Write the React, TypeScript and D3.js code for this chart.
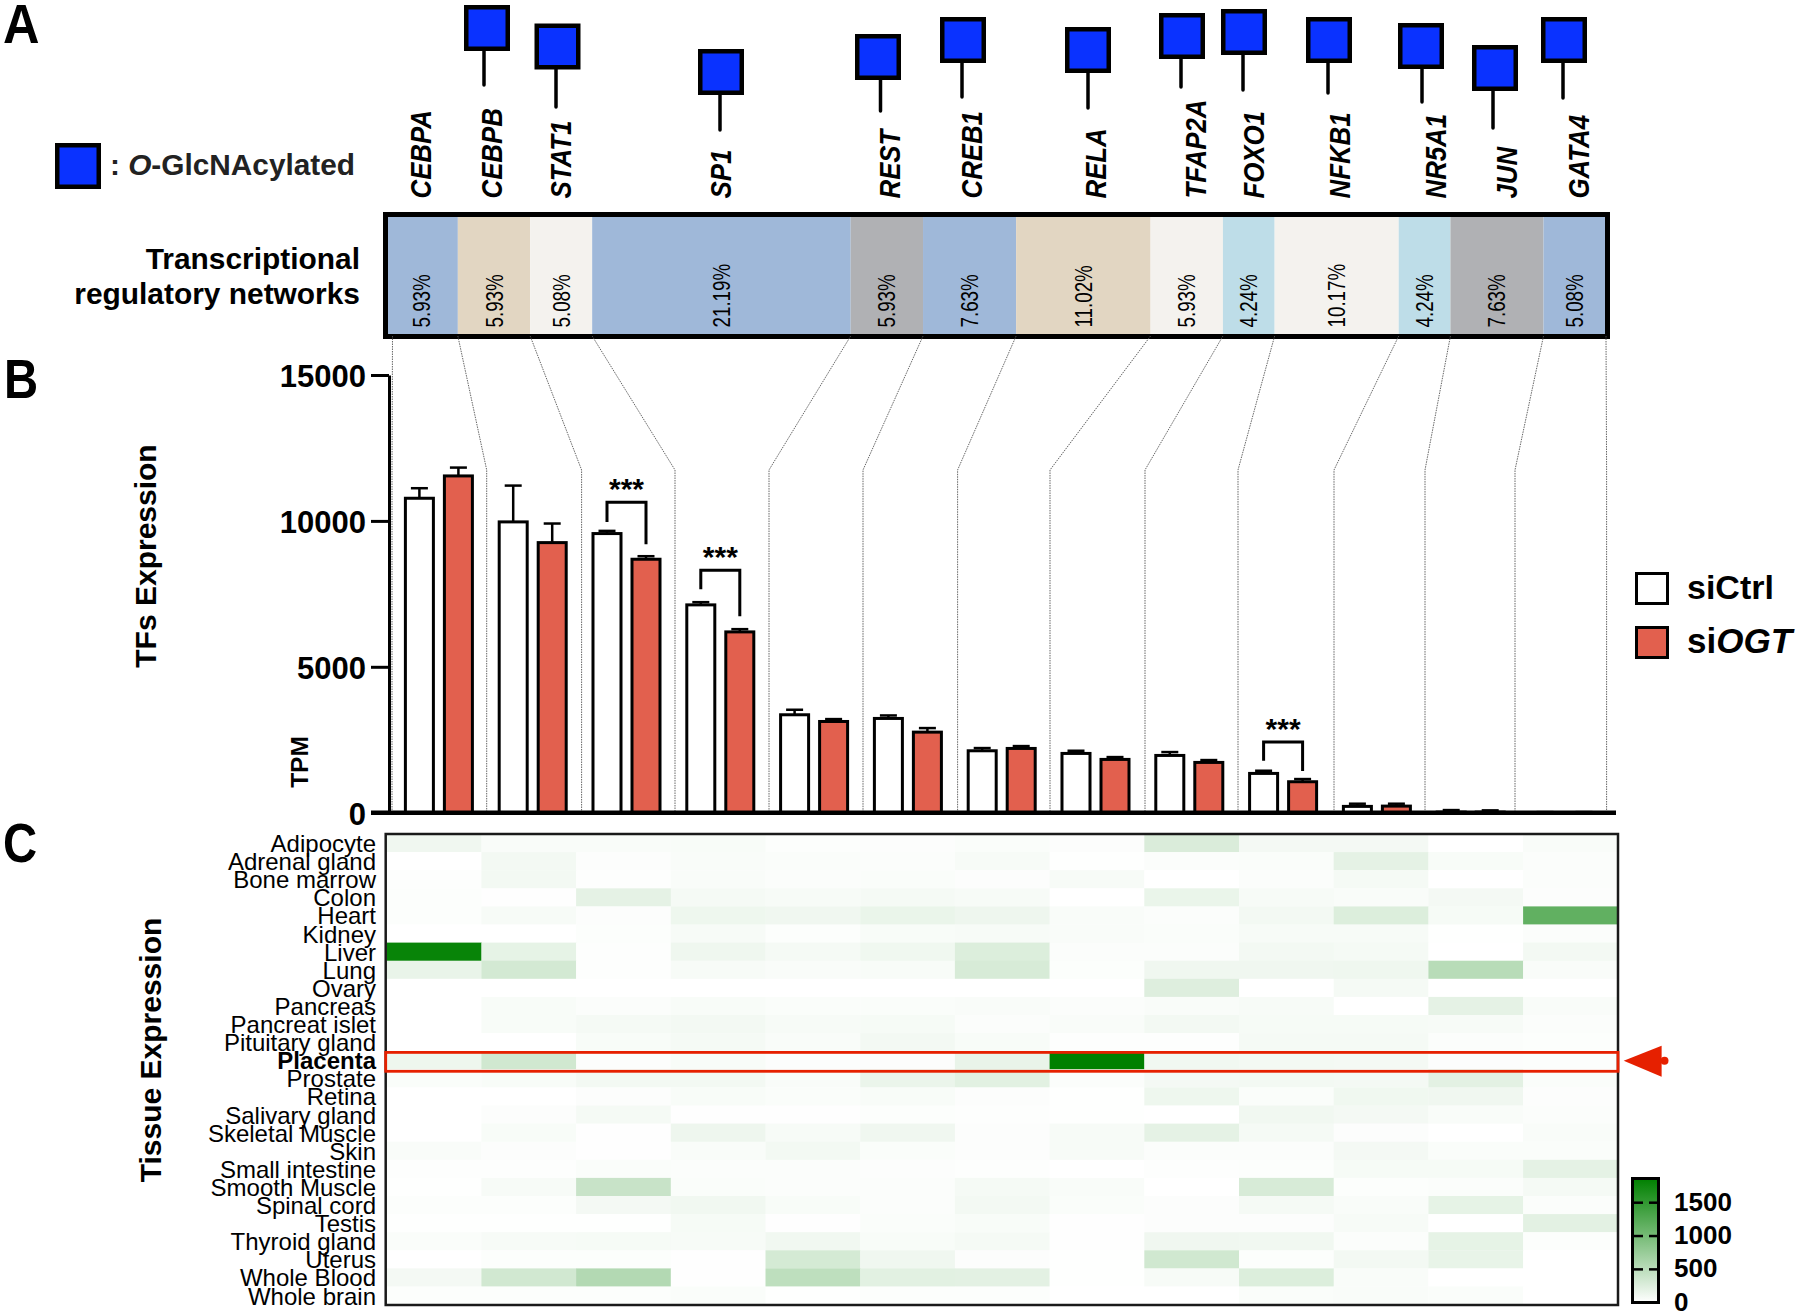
import React, { FC, useEffect, useRef } from "react";
import { axisLeft, format, scaleBand, scaleLinear, select, cumsum } from "d3";

const genes = ["CEBPA", "CEBPB", "STAT1", "SP1", "REST", "CREB1", "RELA", "TFAP2A", "FOXO1", "NFKB1", "NR5A1", "JUN", "GATA4"];
const networkShare = [5.93, 5.93, 5.08, 21.19, 5.93, 7.63, 11.02, 5.93, 4.24, 10.17, 4.24, 7.63, 5.08];

const groups = ["siCtrl", "siOGT"];
const ctrlMean = [10800, 9990, 9590, 7146, 3380, 3254, 2146, 2055, 1986, 1370, 240, 45, 10];
const ctrlTop = [11120, 11210, 9658, 7215, 3528, 3333, 2215, 2123, 2078, 1438, 308, 90, 20];
const ogtMean = [11565, 9280, 8710, 6220, 3150, 2785, 2226, 1850, 1747, 1085, 250, 45, 10];
const ogtTop = [11827, 9910, 8790, 6290, 3208, 2900, 2283, 1906, 1804, 1153, 308, 80, 20];
const tpmTicks = [0, 5000, 10000, 15000];

// [gene, bracket top, left foot, right foot] in TPM
const brackets: [string, number, number, number][] = [
  ["STAT1", 10640, 9966, 9202],
  ["SP1", 8312, 7661, 6736],
  ["NFKB1", 2421, 1781, 1428],
];

const tissues = [
  "Adipocyte", "Adrenal gland", "Bone marrow", "Colon", "Heart", "Kidney", "Liver", "Lung", "Ovary",
  "Pancreas", "Pancreat islet", "Pituitary gland", "Placenta", "Prostate", "Retina", "Salivary gland",
  "Skeletal Muscle", "Skin", "Small intestine", "Smooth Muscle", "Spinal cord", "Testis", "Thyroid gland",
  "Uterus", "Whole Blood", "Whole brain",
];
const tissueValues = [
  [110, 40, 40, 50, 20, 25, 35, 25, 270, 80, 80, 0, 45],
  [0, 90, 25, 45, 35, 30, 60, 5, 30, 35, 190, 50, 30],
  [15, 90, 15, 40, 30, 35, 25, 55, 3, 30, 75, 0, 30],
  [20, 8, 190, 70, 55, 70, 60, 0, 150, 60, 40, 80, 25],
  [20, 60, 25, 120, 110, 150, 125, 40, 30, 90, 250, 65, 1140],
  [0, 0, 20, 60, 20, 50, 55, 40, 35, 55, 60, 5, 30],
  [1780, 180, 15, 115, 75, 105, 250, 30, 30, 90, 70, 0, 85],
  [160, 320, 15, 60, 40, 50, 290, 20, 110, 110, 115, 510, 40],
  [0, 3, 0, 0, 0, 0, 0, 0, 240, 0, 70, 3, 0],
  [2, 50, 30, 50, 35, 35, 45, 30, 40, 60, 0, 190, 40],
  [2, 50, 75, 85, 60, 65, 30, 40, 85, 65, 65, 60, 30],
  [0, 0, 50, 70, 45, 85, 50, 15, 15, 70, 75, 30, 20],
  [120, 340, 25, 50, 25, 25, 160, 1840, 100, 85, 80, 25, 20],
  [35, 50, 90, 85, 45, 145, 210, 30, 80, 85, 80, 200, 35],
  [3, 3, 25, 50, 35, 50, 25, 5, 120, 35, 105, 110, 25],
  [2, 25, 70, 10, 10, 20, 15, 5, 0, 100, 80, 40, 30],
  [2, 50, 10, 125, 60, 110, 25, 60, 190, 70, 25, 0, 45],
  [40, 25, 10, 40, 90, 35, 25, 60, 30, 30, 80, 35, 35],
  [15, 15, 35, 30, 30, 25, 15, 0, 15, 20, 65, 65, 185],
  [5, 55, 400, 35, 30, 30, 70, 40, 3, 290, 20, 30, 75],
  [20, 20, 80, 100, 50, 30, 85, 35, 25, 70, 45, 180, 30],
  [5, 5, 5, 65, 10, 35, 50, 10, 25, 25, 60, 3, 200],
  [35, 60, 65, 60, 100, 50, 70, 8, 110, 100, 30, 180, 20],
  [3, 20, 20, 10, 310, 110, 25, 5, 340, 20, 85, 165, 0],
  [80, 330, 550, 10, 470, 210, 200, 5, 60, 250, 40, 0, 0],
  [20, 20, 20, 35, 5, 20, 20, 0, 0, 35, 40, 35, 3],
];
const heatMax = 1840;
const heatTicks = [0, 500, 1000, 1500];

// hand placed annotation layout: gene -> [square left, square top, stem x, stem bottom]
const squareLayout: Record<string, number[]> = {
  CEBPB: [464, 5, 484, 85],
  STAT1: [534.5, 23.5, 556, 107],
  SP1: [698, 49, 720, 130],
  REST: [855, 34, 880.5, 111],
  CREB1: [940, 17, 962, 97],
  RELA: [1065, 27, 1088, 108],
  TFAP2A: [1159, 13, 1181, 87],
  FOXO1: [1221, 9, 1243, 90],
  NFKB1: [1306, 17, 1328, 93],
  NR5A1: [1398, 23, 1422, 102],
  JUN: [1472, 45, 1493, 128],
  GATA4: [1541, 17, 1563, 98],
};
const geneLabelX = [420, 491.5, 560, 720.5, 889, 971, 1095, 1195, 1253, 1339, 1435, 1506, 1578];
const connectorElbowX = [392, 486.7, 581.6, 675, 769, 863, 957.6, 1050, 1145, 1238, 1334, 1425, 1515, 1606.6];
const segmentColors = ["#9fb8d9", "#e2d6c2", "#f4f2ee", "#9fb8d9", "#b0b1b4", "#9fb8d9", "#e2d6c2", "#f4f2ee", "#bedde8", "#f4f2ee", "#bedde8", "#b0b1b4", "#9fb8d9"];

const FONT = "'Liberation Sans', Arial, sans-serif";
const RED = "#e2604e";
const ALERT = "#e62000";
const GLYCO = "#0a32ff";

const shareX = scaleLinear().domain([0, 100]).range([385.5, 1605.5]);
const shareEdges = [0, ...cumsum(networkShare)];

const geneX = scaleBand<string>().domain(genes).range([392, 1611.4]);
const groupX = scaleBand<string>().domain(groups).range([0, geneX.bandwidth()]).paddingInner(0.205).paddingOuter(0.305);
const tpmY = scaleLinear().domain([0, 15000]).range([812.7, 375]);

const heatX = scaleBand<string>().domain(genes).range([386.7, 1617.8]);
const heatY = scaleBand<string>().domain(tissues).range([834, 1304.6]);
const heatColor = scaleLinear<string>().domain([0, heatMax]).range(["#ffffff", "#008000"]);
const legendY = scaleLinear().domain([0, 1500]).range([1302.7, 1202.7]);

const Rotated: FC<{ x: number; y: number; size: number; sx?: number; bold?: boolean; italic?: boolean; anchor?: string; children: React.ReactNode }> = ({
  x,
  y,
  size,
  sx = 1,
  bold,
  italic,
  anchor = "start",
  children,
}) => (
  <text
    transform={`translate(${x},${y}) rotate(-90) scale(${sx},1)`}
    fontSize={size}
    fontWeight={bold ? "bold" : "normal"}
    fontStyle={italic ? "italic" : "normal"}
    textAnchor={anchor}
  >
    {children}
  </text>
);

const Square: FC<{ x: number; y: number }> = ({ x, y }) => (
  <rect x={x + 2.25} y={y + 2.25} width={41.5} height={41.5} fill={GLYCO} stroke="#000" strokeWidth={4.5} />
);

const PanelA: FC = () => (
  <g>
    {genes.map((g, i) => (
      <Rotated key={g} x={geneLabelX[i] + 10.5} y={198.5} size={29} sx={0.89} bold italic>
        {g}
      </Rotated>
    ))}
    {genes
      .filter((g) => squareLayout[g])
      .map((g) => {
        const [left, top, stemX, stemBottom] = squareLayout[g];
        return (
          <g key={g}>
            <line x1={stemX} x2={stemX} y1={top + 46} y2={stemBottom} stroke="#000" strokeWidth={3.5} strokeLinecap="round" />
            <Square x={left} y={top} />
          </g>
        );
      })}
    <Square x={55} y={143} />
    <text x={110} y={175} fontSize={29} fontWeight="bold" fill="#222" textLength={245} lengthAdjust="spacingAndGlyphs">
      : <tspan fontStyle="italic">O</tspan>-GlcNAcylated
    </text>
    <text x={360} y={269} fontSize={29.9} fontWeight="bold" textAnchor="end">
      Transcriptional
    </text>
    <text x={360} y={304} fontSize={29.9} fontWeight="bold" textAnchor="end">
      regulatory networks
    </text>
    {networkShare.map((p, i) => {
      const x0 = shareX(shareEdges[i]);
      const x1 = shareX(shareEdges[i + 1]);
      return (
        <g key={genes[i]}>
          <rect x={x0} y={217} width={x1 - x0} height={117} fill={segmentColors[i]} />
          <Rotated x={(x0 + x1) / 2 + 8.5} y={327.5} size={23.5} sx={0.8}>
            {format(".2f")(p)}%
          </Rotated>
        </g>
      );
    })}
    <rect x={385.5} y={214.5} width={1222} height={122} fill="none" stroke="#000" strokeWidth={5} />
  </g>
);

const PanelB: FC = () => {
  const axisRef = useRef<SVGGElement>(null);

  useEffect(() => {
    const axis = axisLeft(tpmY).tickValues(tpmTicks).tickSize(18).tickSizeOuter(0).tickPadding(5).tickFormat(format("d") as any);
    const g = select(axisRef.current).call(axis as any);
    g.selectAll("text").attr("font-family", FONT).attr("font-size", 31).attr("font-weight", "bold").attr("fill", "#000").attr("dy", "0.37em");
    g.selectAll("line, path").attr("stroke", "#000").attr("stroke-width", 3);
  }, []);

  return (
    <g>
      {connectorElbowX.map((x, i) => {
        const start = i === 0 ? 392.5 : i === genes.length ? 1606 : shareX(shareEdges[i]);
        return (
          <polyline
            key={i}
            points={`${start},336 ${x},470 ${x},812`}
            fill="none"
            stroke="#555"
            strokeWidth={0.9}
            strokeDasharray="1.5 1"
          />
        );
      })}
      {genes.map((g, i) =>
        groups.map((group) => {
          const mean = group === "siCtrl" ? ctrlMean[i] : ogtMean[i];
          const top = group === "siCtrl" ? ctrlTop[i] : ogtTop[i];
          const x = (geneX(g) as number) + (groupX(group) as number);
          const w = groupX.bandwidth();
          const cx = x + w / 2;
          const yBar = tpmY(mean) + 0.7;
          return (
            <g key={group}>
              <line x1={cx} x2={cx} y1={tpmY(top)} y2={yBar} stroke="#000" strokeWidth={2.5} />
              <line x1={cx - 8.5} x2={cx + 8.5} y1={tpmY(top)} y2={tpmY(top)} stroke="#000" strokeWidth={2.5} />
              <rect
                x={x + 1.5}
                y={yBar}
                width={w - 3}
                height={Math.max(0, tpmY(0) - yBar)}
                fill={group === "siCtrl" ? "#fff" : RED}
                stroke="#000"
                strokeWidth={3}
              />
            </g>
          );
        })
      )}
      {brackets.map(([g, top, left, right]) => {
        const base = geneX(g) as number;
        const x0 = base + (groupX("siCtrl") as number) + groupX.bandwidth() / 2;
        const x1 = base + (groupX("siOGT") as number) + groupX.bandwidth() / 2;
        return (
          <g key={g}>
            <polyline
              points={`${x0},${tpmY(left)} ${x0},${tpmY(top)} ${x1},${tpmY(top)} ${x1},${tpmY(right)}`}
              fill="none"
              stroke="#000"
              strokeWidth={3}
            />
            <text x={(x0 + x1) / 2} y={tpmY(top) - 3} fontSize={30} fontWeight="bold" textAnchor="middle">
              ***
            </text>
          </g>
        );
      })}
      <g ref={axisRef} transform="translate(389,0)" />
      <line x1={371} x2={1616} y1={tpmY(0)} y2={tpmY(0)} stroke="#000" strokeWidth={4.5} />
      <Rotated x={156} y={556} size={30} bold anchor="middle">
        TFs Expression
      </Rotated>
      <Rotated x={307.5} y={762} size={24.5} bold anchor="middle">
        TPM
      </Rotated>
      <rect x={1636.5} y={573.5} width={31} height={30} fill="#fff" stroke="#000" strokeWidth={3} />
      <rect x={1636.5} y={627.5} width={31} height={30} fill={RED} stroke="#000" strokeWidth={3} />
      <text x={1687} y={599} fontSize={34} fontWeight="bold">
        siCtrl
      </text>
      <text x={1687} y={652.5} fontSize={35} fontWeight="bold">
        si<tspan fontStyle="italic">OGT</tspan>
      </text>
    </g>
  );
};

const PanelC: FC = () => {
  const placentaTop = heatY("Placenta") as number;
  return (
    <g>
      <defs>
        <linearGradient id="heatRamp" x1="0" y1="1" x2="0" y2="0">
          <stop offset="0" stopColor={heatColor(0)} />
          <stop offset="1" stopColor={heatColor(heatMax)} />
        </linearGradient>
      </defs>
      {tissues.map((t, r) => (
        <g key={t}>
          {genes.map((g, c) => (
            <rect
              key={g}
              x={heatX(g)}
              y={heatY(t)}
              width={heatX.bandwidth() + 0.3}
              height={heatY.bandwidth() + 0.3}
              fill={heatColor(tissueValues[r][c])}
            />
          ))}
          <text
            x={376}
            y={(heatY(t) as number) + heatY.bandwidth() / 2 + 9}
            fontSize={24}
            textAnchor="end"
            fontWeight={t === "Placenta" ? "bold" : "normal"}
          >
            {t}
          </text>
        </g>
      ))}
      <rect x={385.7} y={834} width={1232.3} height={471} fill="none" stroke="#1a1a1a" strokeWidth={2.5} />
      <rect x={385.7} y={placentaTop + 1.2} width={1232.3} height={heatY.bandwidth() + 0.8} fill="none" stroke={ALERT} strokeWidth={2.8} />
      <polygon points={`1623.7,1060.7 1661.6,1045.7 1661.6,1076.7`} fill={ALERT} />
      <circle cx={1664.5} cy={1060.7} r={4} fill={ALERT} />
      <Rotated x={160.5} y={1050} size={30} bold anchor="middle">
        Tissue Expression
      </Rotated>
      <rect x={1632.5} y={1178.5} width={26} height={124} fill="url(#heatRamp)" stroke="#000" strokeWidth={3} />
      {heatTicks.map((v) => (
        <g key={v}>
          {v > 0 && (
            <>
              <line x1={1631} x2={1643} y1={legendY(v)} y2={legendY(v)} stroke="#000" strokeWidth={2.5} />
              <line x1={1649} x2={1660} y1={legendY(v)} y2={legendY(v)} stroke="#000" strokeWidth={2.5} />
            </>
          )}
          <text x={1674} y={legendY(v) + 8} fontSize={26} fontWeight="bold">
            {v}
          </text>
        </g>
      ))}
    </g>
  );
};

export default function App() {
  return (
    <svg
      width={1800}
      height={1315}
      viewBox="0 0 1800 1315"
      fontFamily={FONT}
      style={{ position: "absolute", left: 0, top: 0, background: "#fff" }}
    >
      <PanelA />
      <PanelB />
      <PanelC />
      <text transform="translate(3,43) scale(0.92,1)" fontSize={55} fontWeight="bold">
        A
      </text>
      <text transform="translate(4,398) scale(0.86,1)" fontSize={55} fontWeight="bold">
        B
      </text>
      <text transform="translate(3,862) scale(0.86,1)" fontSize={55} fontWeight="bold">
        C
      </text>
    </svg>
  );
}
